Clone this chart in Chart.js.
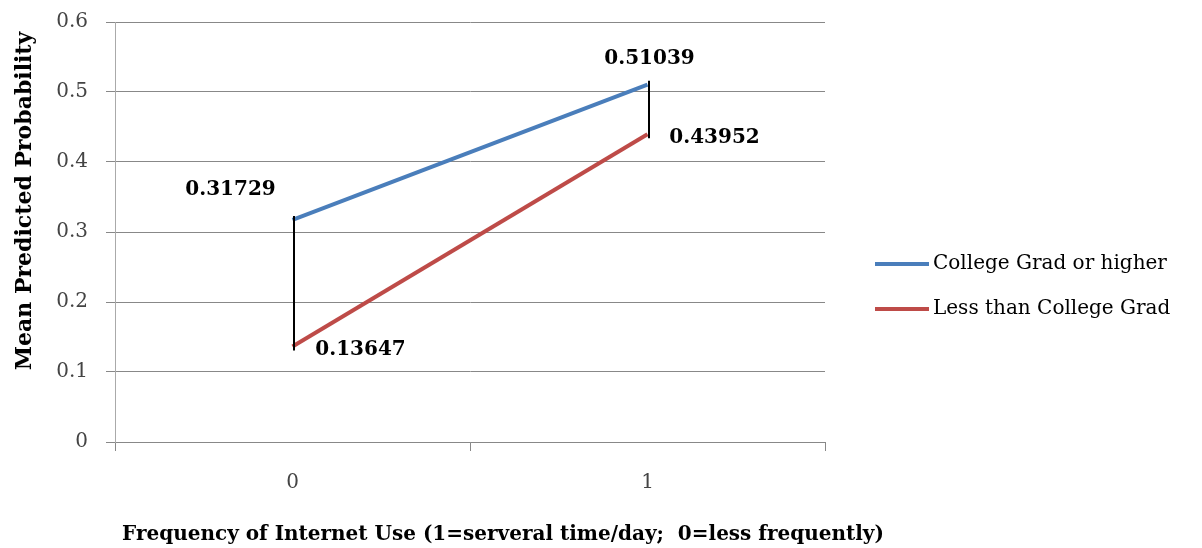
<!DOCTYPE html>
<html>
<head>
<meta charset="utf-8">
<script src="https://cdn.jsdelivr.net/npm/chart.js@4.4.1/dist/chart.umd.min.js"></script>
<style>
  html, body { margin: 0; padding: 0; background: #fff; }
  #wrap { width: 1202px; height: 548px; }
</style>
</head>
<body>
<div id="wrap"><canvas id="chart" width="1202" height="548"></canvas></div>
<script>
"use strict";

// categories on the x axis
var categories = ['0', '1'];

// the two education groups
var seriesNames = ['College Grad or higher', 'Less than College Grad'];
var collegeGrad = [0.31729, 0.51039];
var lessThanCollege = [0.13647, 0.43952];

var yTicks = [0, 0.1, 0.2, 0.3, 0.4, 0.5, 0.6];

var FONT = '"DejaVu Serif", "Liberation Serif", serif';

// draws high-low lines, value labels, legend and axis titles
var extras = {
	id: 'extras',
	afterDatasetsDraw: function(chart) {
		var ctx = chart.ctx;
		var xs = chart.scales.x, ys = chart.scales.y;

		ctx.save();
		// black lines joining the two series at each category
		ctx.strokeStyle = '#000';
		ctx.lineWidth = 2;
		for (var i = 0; i < categories.length; i++) {
			var px = Math.round(xs.getPixelForValue(i)) + 1;
			ctx.beginPath();
			ctx.moveTo(px, ys.getPixelForValue(collegeGrad[i]) - 4);
			ctx.lineTo(px, ys.getPixelForValue(lessThanCollege[i]) + 4);
			ctx.stroke();
		}

		// value labels
		ctx.fillStyle = '#000';
		ctx.font = 'bold 20px ' + FONT;
		ctx.textAlign = 'center';
		ctx.textBaseline = 'middle';
		var offs = [
			[[-62, -30], [68, 3]],
			[[2, -26], [67, 3]]
		];
		for (var j = 0; j < categories.length; j++) {
			var x = xs.getPixelForValue(j);
			ctx.fillText(collegeGrad[j].toFixed(5), x + offs[j][0][0], ys.getPixelForValue(collegeGrad[j]) + offs[j][0][1]);
			ctx.fillText(lessThanCollege[j].toFixed(5), x + offs[j][1][0], ys.getPixelForValue(lessThanCollege[j]) + offs[j][1][1]);
		}

		// legend
		var colors = ['#4a7ebb', '#be4b48'];
		ctx.font = '20px ' + FONT;
		ctx.textAlign = 'left';
		for (var k = 0; k < seriesNames.length; k++) {
			var ly = 264 + k * 45;
			ctx.strokeStyle = colors[k];
			ctx.lineWidth = 4;
			ctx.beginPath();
			ctx.moveTo(875, ly);
			ctx.lineTo(929, ly);
			ctx.stroke();
			ctx.fillText(seriesNames[k], 933, ly);
		}

		// axis titles
		ctx.font = 'bold 20px ' + FONT;
		ctx.textAlign = 'center';
		ctx.fillText('Frequency of Internet Use (1=serveral time/day;  0=less frequently)', 503, 535);
		ctx.font = 'bold 22px ' + FONT;
		ctx.translate(25, 201);
		ctx.rotate(-Math.PI / 2);
		ctx.fillText('Mean Predicted Probability', 0, 0);
		ctx.restore();
	}
};

new Chart(document.getElementById('chart'), {
	type: 'line',
	data: {
		labels: categories,
		datasets: [{
			label: seriesNames[0],
			data: collegeGrad,
			borderColor: '#4a7ebb',
			backgroundColor: '#4a7ebb',
			borderWidth: 4,
			pointRadius: 0,
			tension: 0
		}, {
			label: seriesNames[1],
			data: lessThanCollege,
			borderColor: '#be4b48',
			backgroundColor: '#be4b48',
			borderWidth: 4,
			pointRadius: 0,
			tension: 0
		}]
	},
	options: {
		responsive: false,
		animation: false,
		layout: { padding: { left: 0, right: 377, top: 22, bottom: 0 } },
		plugins: {
			legend: { display: false },
			tooltip: { enabled: false }
		},
		scales: {
			x: {
				offset: true,
				grid: { display: true, offset: true, drawOnChartArea: false, color: '#888', tickLength: 9 },
				border: { display: true, color: '#888', width: 1 },
				ticks: { color: '#444', font: { family: FONT, size: 20 }, padding: 20 },
				afterFit: function(s) { s.height = 106; s.paddingLeft = 0; s.paddingRight = 0; }
			},
			y: {
				min: 0,
				max: 0.6,
				afterBuildTicks: function(s) { s.ticks = yTicks.map(function(v) { return { value: v }; }); },
				grid: { color: '#888', tickLength: 9 },
				border: { display: true, color: '#aaa', width: 1 },
				ticks: {
					color: '#444',
					font: { family: FONT, size: 20 },
					padding: 18,
					callback: function(v) { return String(Math.round(v * 10) / 10); }
				},
				afterFit: function(s) { s.width = 115; s.paddingTop = 0; s.paddingBottom = 0; }
			}
		}
	},
	plugins: [extras]
});
</script>
</body>
</html>
